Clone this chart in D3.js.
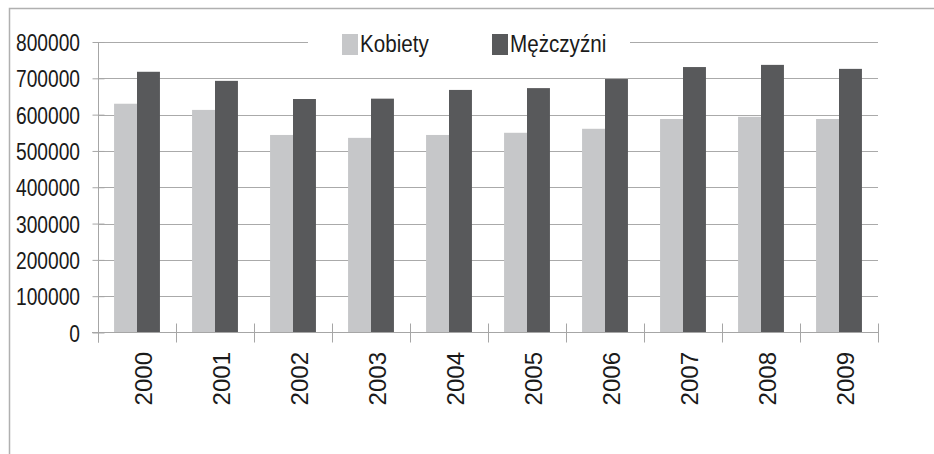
<!DOCTYPE html>
<html>
<head>
<meta charset="utf-8">
<script src="https://cdn.jsdelivr.net/npm/d3@7"></script>
<style>
  body { margin: 0; background: #fff; }
  text { font-family: "Liberation Sans", Arial, sans-serif; }
</style>
</head>
<body>
<svg id="chart" width="934" height="454"></svg>
<script>
// data
const years = ["2000", "2001", "2002", "2003", "2004", "2005", "2006", "2007", "2008", "2009"];
const seriesNames = ["Kobiety", "Mężczyźni"];
const kobiety = [630000, 613000, 544000, 536000, 544000, 550000, 561000, 588000, 594000, 588000];
const mezczyzni = [718000, 693000, 643000, 644000, 668000, 673000, 698000, 731000, 737000, 726000];
const yTicks = [0, 100000, 200000, 300000, 400000, 500000, 600000, 700000, 800000];

const colors = ["#c6c7c9", "#58595b"];
const svg = d3.select("#chart");

// outer chart frame (runs past the window on the right and bottom)
svg.append("rect")
    .attr("x", 9.5).attr("y", 8.5)
    .attr("width", 1000).attr("height", 1000)
    .attr("fill", "none").attr("stroke", "#b0b0b0").attr("stroke-width", 1.5);

const plot = { left: 98, right: 878, top: 42, bottom: 332.5 };

const x = d3.scaleBand().domain(years).range([plot.left, plot.right]);
const xInner = d3.scaleBand().domain(seriesNames)
    .range([0, x.bandwidth()]).paddingOuter(0.7).paddingInner(0);
const y = d3.scaleLinear().domain([0, 800000]).range([plot.bottom, plot.top]);

// gridlines (the top one is interrupted by the legend)
const grid = svg.append("g");
yTicks.filter(t => t > 0 && t < 800000).forEach(t => {
    grid.append("line")
        .attr("x1", plot.left).attr("x2", plot.right)
        .attr("y1", Math.round(y(t)) + 0.5).attr("y2", Math.round(y(t)) + 0.5)
        .attr("stroke", "#aaaaaa").attr("stroke-width", 1.2);
});
const topY = Math.round(y(800000)) + 0.5;
[[plot.left, 308], [630, plot.right]].forEach(([a, b]) => {
    grid.append("line")
        .attr("x1", a).attr("x2", b).attr("y1", topY).attr("y2", topY)
        .attr("stroke", "#aaaaaa").attr("stroke-width", 1.2);
});

// bars
const rows = years.map((yr, i) => ({ year: yr, values: [kobiety[i], mezczyzni[i]] }));
const groups = svg.append("g").selectAll("g")
    .data(rows).join("g")
    .attr("transform", d => `translate(${x(d.year)},0)`);
groups.selectAll("rect")
    .data(d => d.values.map((v, j) => ({ name: seriesNames[j], value: v, j })))
    .join("rect")
    .attr("x", d => xInner(d.name))
    .attr("width", xInner.bandwidth())
    .attr("y", d => y(d.value))
    .attr("height", d => y(0) - y(d.value))
    .attr("fill", d => colors[d.j]);

// y axis - labels squeezed horizontally to mimic the condensed font
const sx = 0.8;
const yAxis = svg.append("g")
    .attr("transform", `translate(${plot.left + 0.5},0)`)
    .call(d3.axisLeft(y).tickValues(yTicks).tickSize(6).tickFormat(d3.format("d")));
yAxis.select(".domain").remove();
yAxis.append("line").attr("y1", plot.top).attr("y2", plot.bottom + 10).attr("stroke", "#a6a6a6");
yAxis.selectAll(".tick line").attr("x2", 6).attr("x1", -6).attr("stroke", "#a6a6a6");
yAxis.selectAll(".tick text")
    .attr("font-size", 24).attr("fill", "#1a1a1a")
    .attr("x", -18.5 / sx).attr("dy", "0.36em")
    .attr("transform", `scale(${sx},1)`);

// x axis
const xAxis = svg.append("g")
    .attr("transform", `translate(0,${plot.bottom})`);
xAxis.append("line").attr("x1", plot.left - 6).attr("x2", plot.right).attr("stroke", "#a6a6a6");
const bounds = years.map(yr => x(yr)).concat([plot.right]);
xAxis.selectAll(".xtick").data(bounds).join("line")
    .attr("x1", d => Math.round(d) + 0.5).attr("x2", d => Math.round(d) + 0.5)
    .attr("y1", -9).attr("y2", 10).attr("stroke", "#a6a6a6");
xAxis.selectAll(".xlabel").data(years).join("text")
    .attr("transform", d => `translate(${x(d) + x.bandwidth() / 2 + 15},${352 - plot.bottom}) rotate(-90)`)
    .attr("text-anchor", "end")
    .attr("font-size", 24).attr("fill", "#1a1a1a")
    .text(d => d);

// legend
const legendX = [342, 492];
const legend = svg.append("g").selectAll("g")
    .data(seriesNames).join("g")
    .attr("transform", (d, i) => `translate(${legendX[i]},0)`);
legend.append("rect")
    .attr("x", 0).attr("y", 34).attr("width", 16).attr("height", 21)
    .attr("fill", (d, i) => colors[i]);
legend.append("text")
    .attr("transform", "translate(18,52) scale(0.86,1)")
    .attr("font-size", 24).attr("fill", "#1a1a1a")
    .text(d => d);
</script>
</body>
</html>
